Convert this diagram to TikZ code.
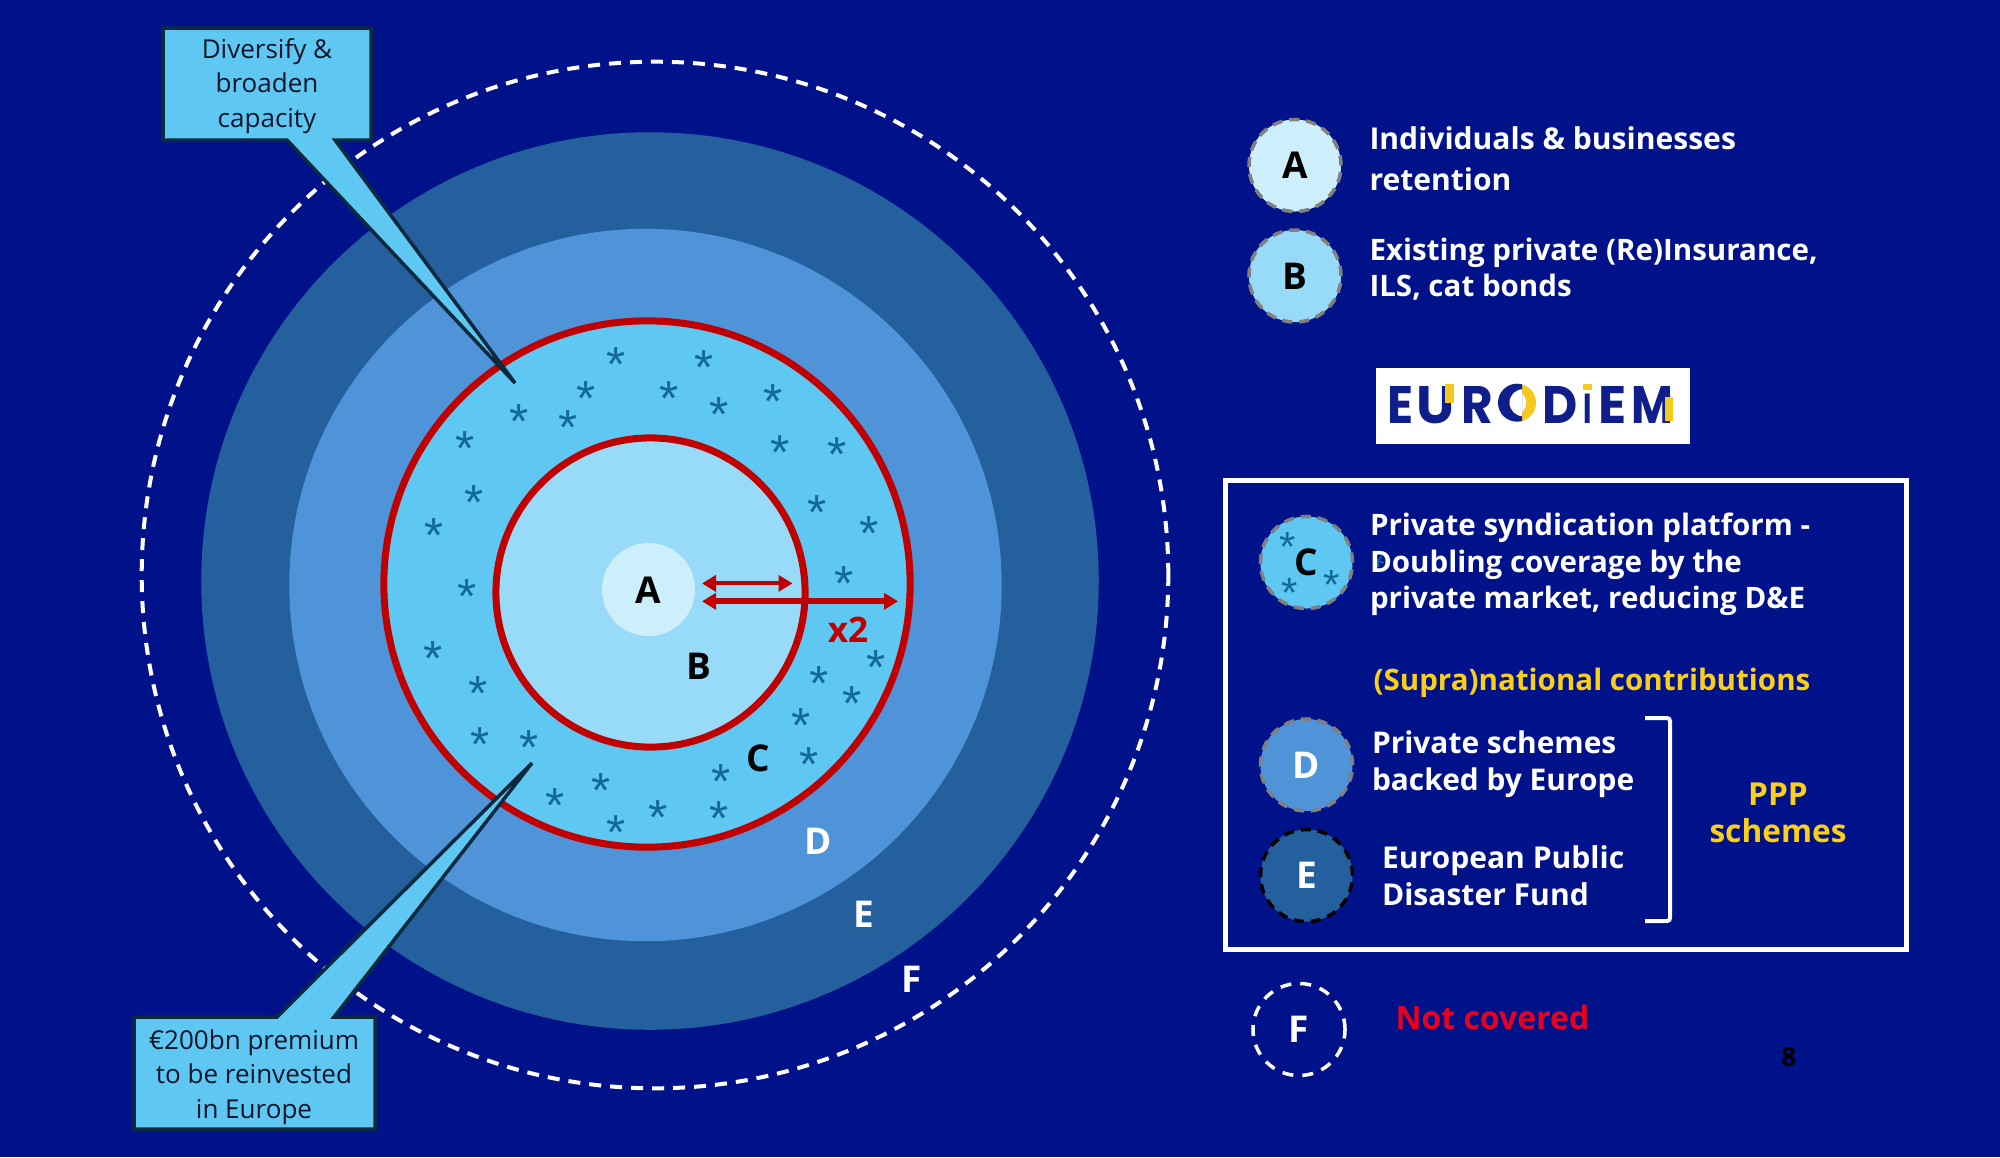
\documentclass[tikz,border=0pt]{standalone}
\usepackage{fontspec}
\usepackage{graphicx}
\usepackage{xcolor}
\usepackage{tikz}
\usetikzlibrary{positioning, arrows.meta}
\setmainfont{Open Sans}
\newfontfamily\logofont{Poppins}
\newfontfamily\starfont{Liberation Sans}
\newcommand{\logoletter}[3]{\makebox[#1pt][l]{\resizebox{#2pt}{\height}{#3}}}
\definecolor{slidenavy}{HTML}{00128A}
\definecolor{ringa}{HTML}{CCEFFB}
\definecolor{ringb}{HTML}{97DBF8}
\definecolor{ringc}{HTML}{5EC8F2}
\definecolor{ringd}{HTML}{4F94D9}
\definecolor{ringe}{HTML}{245F9E}
\definecolor{ringred}{HTML}{C00000}
\definecolor{starblue}{HTML}{13699A}
\definecolor{calloutdark}{HTML}{0B2A40}
\definecolor{callouttextdark}{HTML}{08152A}
\definecolor{legendyellow}{HTML}{F9CF1A}
\definecolor{notcoveredred}{HTML}{E8001C}
\definecolor{logonavy}{HTML}{0E1F8C}
\definecolor{logoyellow}{HTML}{F5C91E}

\begin{document}
\begin{tikzpicture}[
    x=0.01cm, y=-0.01cm,
    every node/.style={font=\small},
    ring/.style={circle, inner sep=0pt, text centered},
    redring/.style={ring, draw=ringred, line width=0.07cm},
    badge/.style={circle, inner sep=0pt, minimum size=0.92cm, line width=0.035cm, dash pattern=on 0.1cm off 0.07cm, font=\fontsize{10.5}{12}\selectfont\bfseries},
    ringlabel/.style={inner sep=0pt, font=\fontsize{10.5}{12}\selectfont\bfseries},
    starmark/.style={inner sep=0pt, text=starblue, font=\fontsize{14}{14}\selectfont\starfont, yshift=-2.8pt},
    legendtext/.style={inner sep=0pt, anchor=west, align=left, text=white, font=\fontsize{8.4}{10.4}\selectfont\bfseries},
    yellowtext/.style={inner sep=0pt, align=center, text=legendyellow, font=\fontsize{8.4}{10.4}\selectfont\bfseries},
    calloutshape/.style={fill=ringc, draw=calloutdark, line width=0.035cm, line join=miter},
    callouttext/.style={inner sep=0pt, align=center, text=callouttextdark, font=\fontsize{7.4}{9.8}\selectfont},
    spanarrow/.style={{Triangle[length=0.14cm, width=0.16cm]}-{Triangle[length=0.14cm, width=0.16cm]}, draw=ringred, fill=ringred}
]

\useasboundingbox (0,0) rectangle (2000,1157);
\fill[slidenavy] (0,0) rectangle (2000,1157);

\node[ring, draw=white, line width=0.04cm, dash pattern=on 0.12cm off 0.09cm, minimum size=10.26cm] (ringf) at (655,575) {};
\node[ring, fill=ringe, minimum size=8.97cm] (ringE) at (650,581) {};
\node[ring, fill=ringd, minimum size=7.12cm] (ringD) at (645.5,585) {};
\node[redring, fill=ringc, minimum size=5.26cm] (ringC) at (647,584) {};
\node[redring, fill=ringb, minimum size=3.09cm] (ringB) at (650.5,592.5) {};
\node[ring, fill=ringa, minimum size=0.93cm] (ringA) at (648.5,589.5) {};

\foreach \sx/\sy in {616/355, 704/358, 586/389, 669/389, 773/392, 719/405, 519/412, 568/418,
    465/439, 780/443, 837/445, 474/493, 817/503, 434/526, 869/524, 844/574,
    467/587, 433/649, 876/658, 819/674, 478/684, 852/694, 801/716, 480/735,
    529/738, 809/755, 721/772, 601/781, 555/796, 658/808, 719/809, 616/823}
    \node[starmark] at (\sx,\sy) {*};

\node[ringlabel] (labela) at (648.5,590) {A};
\node[ringlabel] (labelb) at (698.5,666) {B};
\node[ringlabel] (labelc) at (758,758) {C};
\node[ringlabel, text=white] (labeld) at (818,841) {D};
\node[ringlabel, text=white] (labele) at (863.5,914) {E};
\node[ringlabel, text=white] (labelf) at (912,979) {F};
\node[ringlabel, text=ringred, font=\fontsize{10}{12}\selectfont\bfseries] (labelx) at (848,630) {x2};

\coordinate (shortleft) at (702,583.4);
\coordinate (shortright) at (792.5,583.4);
\coordinate (longleft) at (702,601.3);
\coordinate (longright) at (898,601.3);
\draw[spanarrow, line width=0.04cm] (shortleft) -- (shortright);
\draw[spanarrow, line width=0.06cm] (longleft) -- (longright);

\coordinate (divtip) at (515,383);
\draw[calloutshape] (163,28) -- (371,28) -- (371,140) -- (335,140) -- (divtip) -- (287,140) -- (163,140) -- cycle;
\node[callouttext] (diversify) at (267,86) {Diversify \&\\broaden\\capacity};

\coordinate (premtip) at (532,763);
\draw[calloutshape] (134,1017) -- (277,1017) -- (premtip) -- (334,1017) -- (375,1017) -- (375,1129) -- (134,1129) -- cycle;
\node[callouttext] (premium) at (254,1077) {€200bn premium\\to be reinvested\\in Europe};

\node[badge, fill=ringa, draw=gray, text=black] (badgea) at (1295,165.5) {A};
\node[badge, fill=ringb, draw=gray, text=black, below=0.15cm of badgea] (badgeb) {B};
\node[legendtext, right=0.26cm of badgea, yshift=0.07cm, font=\fontsize{8.55}{10.4}\selectfont\bfseries] (texta) {Individuals \& businesses\\[1.3pt]retention};
\node[legendtext, right=0.26cm of badgeb, yshift=0.07cm] (textb) {Existing private (Re)Insurance,\\ILS, cat bonds};

\node[fill=white, minimum width=3.145cm, minimum height=0.76cm, inner sep=0pt] (logobox) at (1533,406) {};
\node[inner sep=0pt, text=logonavy, font=\fontsize{15}{16}\selectfont\logofont\bfseries] (logo) at (1530.3,402.7) {\logoletter{8.3}{7.4}{E}\logoletter{12.8}{10.9}{U}\logoletter{10.4}{9}{R}\logoletter{12.8}{10.9}{O}\logoletter{11.4}{10}{D}\logoletter{4.3}{2.4}{i}\logoletter{9.5}{8}{E}\logoletter{11.9}{11.9}{M}};
\coordinate (logoo) at (1517,402.7);
\fill[white] (logoo) circle (0.215cm);
\begin{scope}
\clip (1521,380) rectangle (1540,425);
\fill[logoyellow] (logoo) circle (0.19cm);
\fill[white] (1512,402.7) circle (0.14cm);
\end{scope}
\begin{scope}
\clip (1495,380) rectangle (1522,425);
\fill[logonavy] (logoo) circle (0.19cm);
\fill[white] (1523,402.7) circle (0.135cm);
\end{scope}
\fill[logoyellow] (1445,384) rectangle (1454,403);
\fill[white] (1582,380) rectangle (1593,391);
\fill[logoyellow] (1583,384) rectangle (1592,390);
\fill[logoyellow] (1665,397) rectangle (1673.3,421);

\draw[white, line width=0.05cm] (1225,480) rectangle (1906,949);

\node[badge, fill=ringc, draw=gray, text=black] (badgec) at (1306.5,562.5) {C};
\node[starmark, font=\fontsize{12}{12}\selectfont\starfont, yshift=0.4pt] at (1288,539) {*};
\node[starmark, font=\fontsize{12}{12}\selectfont\starfont, yshift=0.4pt] at (1290,585) {*};
\node[starmark, font=\fontsize{12}{12}\selectfont\starfont, yshift=0.4pt] at (1332,577) {*};
\foreach \a in {18,90,162,234,306}
    \draw[starblue, line width=0.015cm] (1378,561) -- ++(\a:6);
\node[legendtext, right=0.15cm of badgec, yshift=-0.02cm] (textc) {Private syndication platform -\\Doubling coverage by the\\private market, reducing D\&E};

\node[yellowtext] (supra) at (1592,683) {(Supra)national contributions};

\node[badge, fill=ringd, draw=gray, text=white] (badged) at (1306.5,765) {D};
\node[badge, fill=ringe, draw=black, text=white, below=0.15cm of badged] (badgee) {E};
\node[legendtext, right=0.17cm of badged, yshift=0.01cm, font=\fontsize{8.5}{10.4}\selectfont\bfseries] (textd) {Private schemes\\backed by Europe};
\node[legendtext, right=0.27cm of badgee, font=\fontsize{8.55}{10.4}\selectfont\bfseries] (texte) {European Public\\Disaster Fund};

\coordinate (brackettop) at (1645,718);
\coordinate (bracketbot) at (1645,921);
\draw[white, line width=0.04cm, rounded corners=0.03cm] (brackettop) -- (1670,718) -- (1670,921) -- (bracketbot);

\node[yellowtext, font=\fontsize{9}{10.6}\selectfont\bfseries] (ppp) at (1778,813) {PPP\\schemes};

\node[badge, draw=white, text=white, line width=0.035cm, dash pattern=on 0.11cm off 0.09cm] (badgef) at (1299,1029.5) {F};
\node[legendtext, text=notcoveredred, right=0.48cm of badgef, yshift=0.12cm, font=\fontsize{9.1}{10.4}\selectfont\bfseries] (textf) {Not covered};
\node[inner sep=0pt, text=black, font=\fontsize{7.5}{9}\selectfont\bfseries] (pagenum) at (1789,1057) {8};

\end{tikzpicture}
\end{document}
